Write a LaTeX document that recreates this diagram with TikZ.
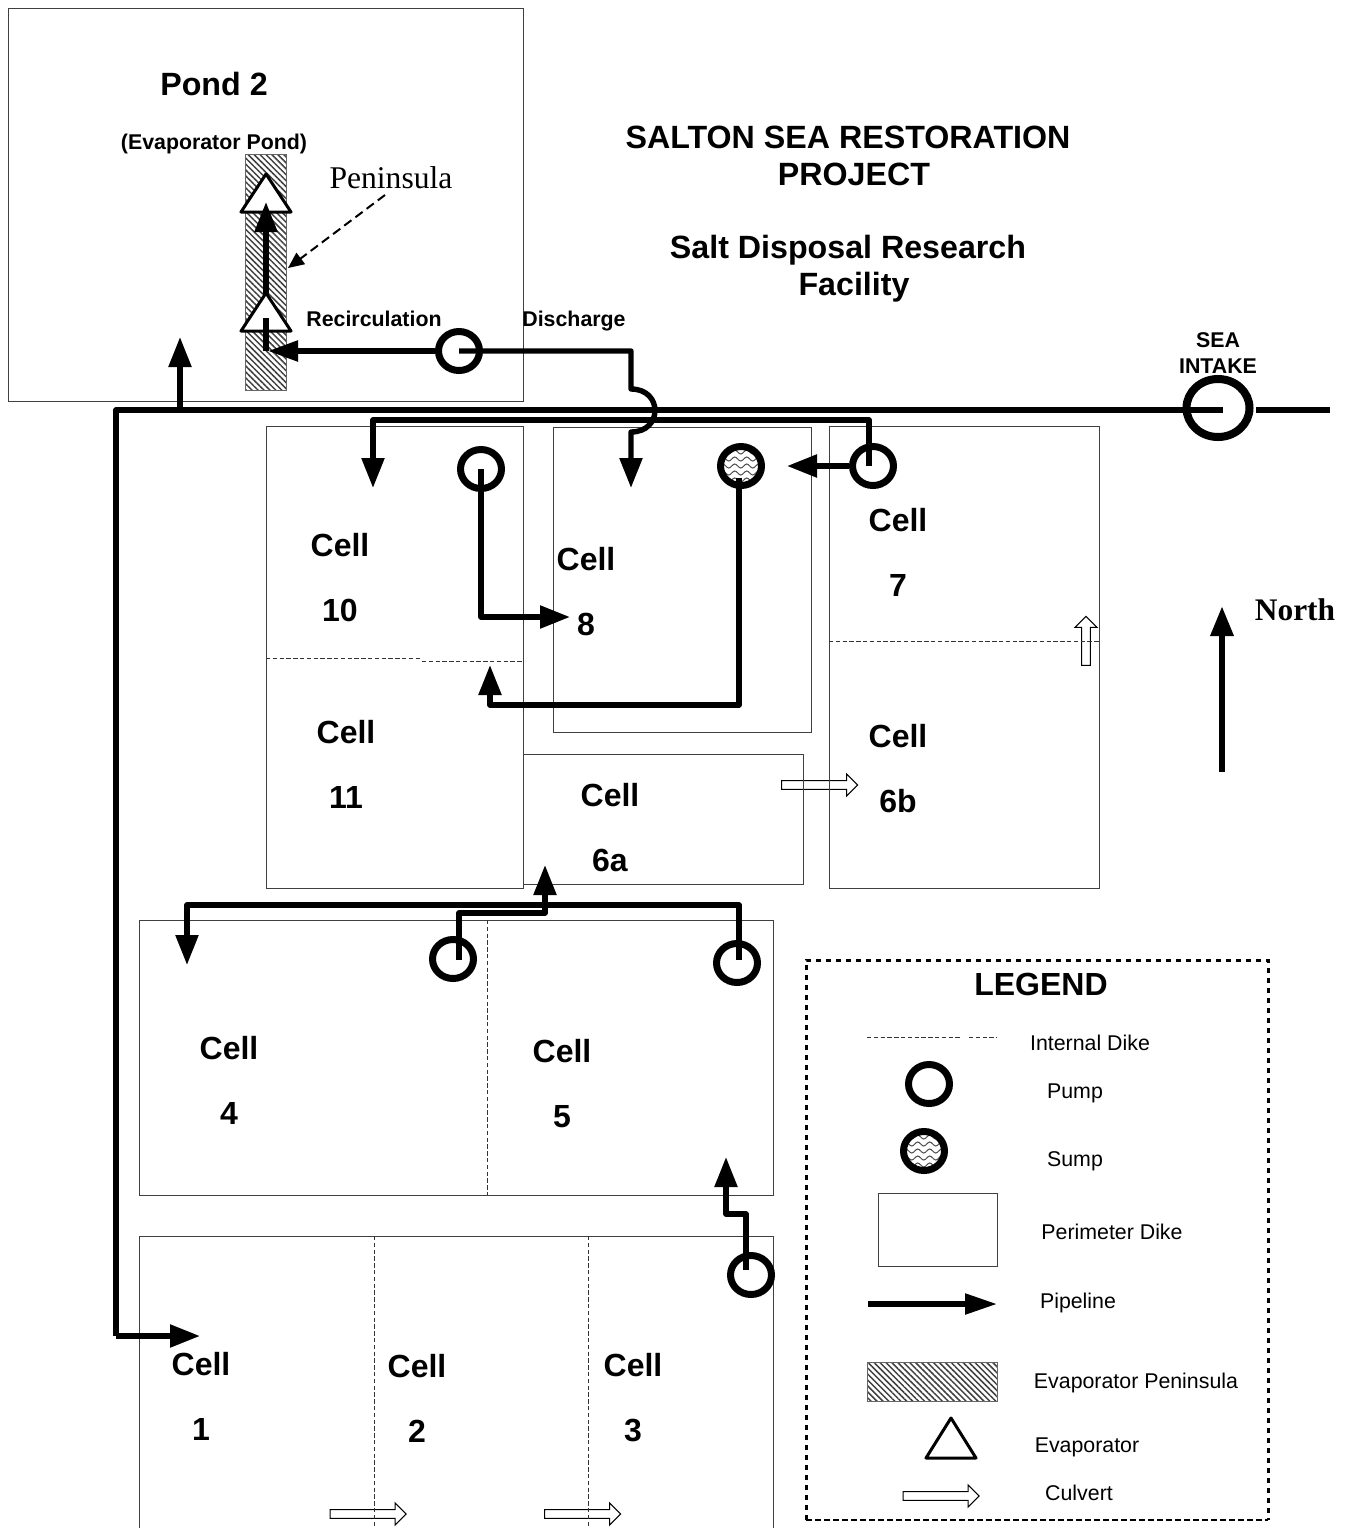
\documentclass[tikz,border=0pt]{standalone}
\usepackage{fontspec}
\setmainfont{Liberation Sans}
\newfontfamily\serifname{Liberation Serif}
\usetikzlibrary{arrows.meta,shapes.geometric,shapes.arrows,patterns.meta,decorations.pathmorphing,calc}
\tikzset{
  perimeter/.style={draw=black!75,line width=0.5pt},
  internaldike/.style={draw=black!80,line width=0.4pt,dash pattern=on 2.2pt off 1.2pt},
  hatched/.style={draw=black!60,line width=0.4pt,pattern={Lines[angle=-45,distance=2.1pt,line width=0.75pt]},pattern color=black!75},
  pipeline/.style={line width=2.7pt,line join=round,-{Triangle[length=15pt,width=11pt]}},
  pipeplain/.style={line width=2.7pt,line join=round},
  pump/.style={ellipse,draw,fill=white,line width=3.5pt,inner sep=0pt,minimum width=20.5pt,minimum height=19.5pt},
  seapump/.style={pump,line width=4pt,minimum width=31.5pt,minimum height=29pt},
  sump/.style={pump,path picture={
    \foreach \k in {-7,-3.5,0,3.5,7}
      \draw[black!70,line width=0.5pt,decorate,decoration={snake,segment length=6pt,amplitude=1pt}]
        ($(path picture bounding box.center)+(-11pt,\k pt)$) -- ($(path picture bounding box.center)+(11pt,\k pt)$);}},
  evaporator/.style={draw,fill=white,line width=1.5pt,line join=round},
  culvert/.style={single arrow,draw,fill=white,line width=0.5pt,inner sep=1.9pt,
    minimum height=38pt,single arrow head extend=3.4pt,single arrow head indent=0pt},
  celllabel/.style={font=\bfseries\fontsize{16}{32.5}\selectfont,align=center,inner sep=0pt},
  titlelabel/.style={font=\bfseries\fontsize{16.1}{18.5}\selectfont,inner sep=0pt},
  smalllabel/.style={font=\bfseries\fontsize{10.67}{13}\selectfont,align=center,inner sep=0pt},
  legendlabel/.style={font=\fontsize{10.67}{13}\selectfont,inner sep=0pt},
}
\begin{document}
\begin{tikzpicture}[x=0.5pt,y=-0.5pt]
\useasboundingbox (0,0) rectangle (1351,1528);
% culverts
\node[culvert] (culvert6a) at (817.5,785) {};
\node[culvert,minimum height=24.5pt,rotate=90] (culvert7) at (1086,643) {};
\node[culvert] (culvert2) at (366,1514) {};
\node[culvert] (culvert3) at (580.5,1514) {};
% ponds and cells
\draw[perimeter] (8,8) rectangle (523,401);
\draw[perimeter] (266,426) rectangle (523,888);
\draw[perimeter] (553,427) rectangle (811,732);
\draw[perimeter] (829,426) rectangle (1099,888);
\draw[perimeter] (523,754) -- (803,754) -- (803,884) -- (523,884);
\draw[perimeter] (139,920) rectangle (773,1195);
\draw[perimeter] (139,1528) -- (139,1236) -- (773,1236) -- (773,1528);
% internal dikes
\draw[internaldike] (266,658) -- (421,658);
\draw[internaldike] (422,661) -- (523,661);
\draw[internaldike] (829,641) -- (1099,641);
\draw[internaldike] (487,920) -- (487,1195);
\draw[internaldike] (374,1236) -- (374,1528);
\draw[internaldike] (588,1236) -- (588,1528);
% peninsula in pond 2
\node[hatched,minimum width=20.5pt,minimum height=118pt,inner sep=0pt,outer sep=0pt] (peninsula) at (266,272) {};
\draw[evaporator] (241,212) -- (266,174) -- (291,212) -- cycle;
% pumps
\node[pump] (pumppond) at (459,351) {};
\node[seapump] (pumpsea) at (1218,408) {};
\node[pump] (pumpcellten) at (481,469) {};
\node[sump] (sumpcelleight) at (741,466) {};
\node[pump] (pumpcellseven) at (873,466) {};
\node[pump] (pumpcellfour) at (453,959) {};
\node[pump] (pumpcellfive) at (737,963) {};
\node[pump] (pumpcellthree) at (751,1275) {};
% pipeline ends
\coordinate (corner) at (266,351);
\coordinate (evaptip) at (266,202);
\coordinate (hoptop) at (631,389);
\coordinate (hopbottom) at (631,432);
\coordinate (dischargetip) at (631,488);
\coordinate (intakejoin) at (1223,410);
\coordinate (intakestub) at (1256,410);
\coordinate (intakeend) at (1330,410);
\coordinate (maincorner) at (116,410);
\coordinate (cellonecorner) at (116,1336);
\coordinate (cellonetip) at (200,1336);
\coordinate (pondbranch) at (180,410);
\coordinate (pondtip) at (180,337);
\coordinate (cellsevenstart) at (869,466);
\coordinate (celltentop) at (869,420);
\coordinate (celltenturn) at (373,420);
\coordinate (celltentip) at (373,488);
\coordinate (sumptip) at (787,466);
\coordinate (celleighttip) at (570,617);
\coordinate (celleightturn) at (481,617);
\coordinate (sumpstart) at (739,478);
\coordinate (sumpturn) at (739,705);
\coordinate (celleleventurn) at (490,705);
\coordinate (celleleventip) at (490,665);
% pipelines
\draw[pipeline] (corner) -- (evaptip);
\draw[evaporator] (241,331) -- (266,293) -- (291,331) -- cycle;
\draw[pipeplain] (266,318) -- (corner);
\draw[pipeline,-{Triangle[length=15pt,width=10pt]}] (pumppond.west) -- ($(corner)+(2,0)$);
\draw[pipeline] (pumppond.center) -| (hoptop) .. controls (663,389) and (663,432) .. (hopbottom) -- (dischargetip);
\draw[pipeplain] (intakejoin) -- (maincorner) -- (cellonecorner);
\draw[pipeline] (cellonecorner) -- (cellonetip);
\draw[pipeplain] (intakestub) -- (intakeend);
\draw[pipeline] (pondbranch) -- (pondtip);
\draw[pipeline] (cellsevenstart) -- (celltentop) -- (celltenturn) -- (celltentip);
\draw[pipeline] (pumpcellseven.west) -- (sumptip);
\draw[pipeline] (pumpcellten.center) -- (celleightturn) -- (celleighttip);
\draw[pipeline] (sumpstart) -- (sumpturn) -- (celleleventurn) -- (celleleventip);
\draw[pipeline] (739,960) -- (739,905) -- (187,905) -- (187,965);
\draw[pipeline] (459,960) -- (459,913) -- (545,913) -- (545,865);
\draw[pipeline] (746,1270) -- (746,1214) -- (726,1214) -- (726,1157);
% north
\coordinate (northstart) at (1222,772);
\coordinate (northtip) at (1222,606);
\draw[pipeline,line width=3.2pt] (northstart) -- (northtip);
\node[font=\serifname\bfseries\fontsize{15.7}{18}\selectfont,inner sep=0pt] (north) at (1295,610) {North};
% titles
\node[titlelabel] (pondtitle) at (214,84) {Pond 2};
\node[smalllabel] (pondsub) at (214,144) {(Evaporator Pond)};
\node[font=\serifname\fontsize{15.8}{18}\selectfont,inner sep=0pt] (peninsulalabel) at (391,178) {Peninsula};
\coordinate (peninsulatip) at (288,268);
\coordinate (peninsulastart) at (385,195);
\draw[line width=1pt,dash pattern=on 4.5pt off 2.5pt,-{Triangle[length=8pt,width=7pt]}] (peninsulastart) -- (peninsulatip);
\node[smalllabel] (recirc) at (374,319) {Recirculation};
\node[smalllabel] (discharge) at (574,321) {Discharge};
\node[smalllabel] (seaintake) at (1218,353) {SEA\\INTAKE};
\node[titlelabel] (titleone) at (848,137) {SALTON SEA RESTORATION};
\node[titlelabel] (titletwo) at (854,174) {PROJECT};
\node[titlelabel] (titlethree) at (848,250) {Salt Disposal Research};
\node[titlelabel] (titlefour) at (854,287) {Facility};
% cell labels
\foreach \x/\y/\t in {340/578/10,586/592/8,898/552/7,346/764/11,610/828/6a,898/769/6b,229/1080/4,562/1084/5,201/1396/1,417/1398/2,633/1398/3}
  \node[celllabel] (cell\t) at (\x,\y) {Cell\\\t};
% legend
\draw[line width=1.5pt,dash pattern=on 2.7pt off 2.3pt] (806,1520) -- (806,960) -- (1268,960) -- (1268,1520);
\draw[line width=0.8pt,dash pattern=on 3pt off 1.5pt] (806,1520) -- (1268,1520);
\node[font=\bfseries\fontsize{16}{18}\selectfont,inner sep=0pt] (legend) at (1041,984) {LEGEND};
\draw[internaldike] (867,1037) -- (960,1037);
\draw[internaldike] (969,1037) -- (997,1037);
\node[pump] (legendpump) at (929,1084) {};
\node[sump] (legendsump) at (924,1151) {};
\draw[perimeter] (878,1193) rectangle (997,1266);
\coordinate (legendpipestart) at (868,1304);
\coordinate (legendpipeend) at (997,1304);
\draw[pipeline,-{Triangle[length=16pt,width=10pt]}] (legendpipestart) -- (legendpipeend);
\node[hatched,minimum width=65pt,minimum height=19.5pt,inner sep=0pt,outer sep=0pt] (legendpeninsula) at (932,1381.5) {};
\draw[evaporator] (926,1458) -- (951,1418) -- (976,1458) -- cycle;
\node[culvert] (legendculvert) at (939,1496) {};
\node[legendlabel] (legenddike) at (1090,1043) {Internal Dike};
\node[legendlabel] at (1075,1093) (legendpumptext) {Pump};
\node[legendlabel] at (1075,1161) (legendsumptext) {Sump};
\node[legendlabel] at (1112,1232) (legendperimeter) {Perimeter Dike};
\node[legendlabel] at (1078,1303) (legendpipeline) {Pipeline};
\node[legendlabel] at (1136,1383) (legendpentext) {Evaporator Peninsula};
\node[legendlabel] at (1087,1447) (legendevap) {Evaporator};
\node[legendlabel] at (1079,1493) (legendculverttext) {Culvert};
\end{tikzpicture}
\end{document}
